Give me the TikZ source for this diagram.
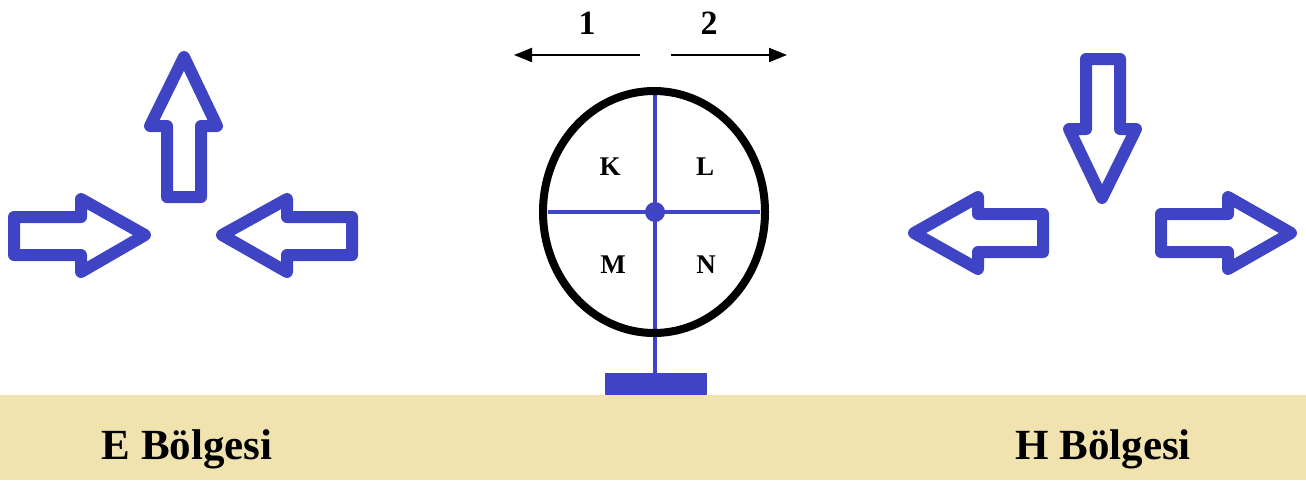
\documentclass[tikz,border=0pt]{standalone}
\usepackage{fontspec}
\setmainfont{Liberation Serif}
\usetikzlibrary{arrows.meta}
\definecolor{bl}{RGB}{62,68,196}
\definecolor{sand}{RGB}{240,227,176}
\begin{document}
\begin{tikzpicture}[x=1pt,y=-1pt,
  hollow/.style={draw=bl,line width=12pt,line join=round},
  lbl/.style={font=\bfseries\fontsize{27}{30}\selectfont,inner sep=0pt},
  num/.style={font=\bfseries\fontsize{34}{40}\selectfont,inner sep=0pt},
  region/.style={font=\bfseries\fontsize{43}{48}\selectfont,inner sep=0pt},
  dirarrow/.style={-{Triangle[length=18pt,width=14pt]},line width=2pt,black},
  blueline/.style={bl,line width=4pt}]
\useasboundingbox (0,0) rectangle (1306,480);
% ground strip
\fill[sand] (0,395) rectangle (1306,480);
% E region arrows
\draw[hollow] (167,197) -- (167,126) -- (150,126) -- (184,57) -- (217,126) -- (201,126) -- (201,197) -- cycle;
\draw[hollow] (14,217) -- (81,217) -- (81,199) -- (145,235) -- (81,272) -- (81,255) -- (14,255) -- cycle;
\draw[hollow] (352,217) -- (287,217) -- (287,199) -- (222,235) -- (287,272) -- (287,255) -- (352,255) -- cycle;
% H region arrows
\draw[hollow] (1086,59) -- (1120,59) -- (1120,129) -- (1136,129) -- (1102,198) -- (1069,129) -- (1086,129) -- cycle;
\draw[hollow] (1043,214) -- (978,214) -- (978,197) -- (914,233) -- (978,269) -- (978,252) -- (1043,252) -- cycle;
\draw[hollow] (1161,214) -- (1228,214) -- (1228,197) -- (1291,233) -- (1228,269) -- (1228,252) -- (1161,252) -- cycle;
% wheel
\coordinate (c) at (655,212);
\coordinate (vt) at (655,90);
\coordinate (vb) at (655,375);
\coordinate (hl) at (548,212);
\coordinate (hr) at (760,212);
\draw[blueline] (vt) -- (vb);
\draw[blueline] (hl) -- (hr);
\draw[line width=8pt] (654,212) ellipse [x radius=111pt, y radius=121pt];
\fill[bl] (c) circle [radius=10pt];
\fill[bl] (605,373) rectangle (707,395);
% quadrant labels
\node[lbl] (K) at (610,167) {K};
\node[lbl] (L) at (705,167) {L};
\node[lbl] (M) at (613,265) {M};
\node[lbl] (N) at (706,265) {N};
% direction arrows
\coordinate (a1s) at (640,55);
\coordinate (a1e) at (514,55);
\coordinate (a2s) at (671,55);
\coordinate (a2e) at (787,55);
\draw[dirarrow] (a1s) -- (a1e);
\draw[dirarrow] (a2s) -- (a2e);
\node[num] (n1) at (587,23) {1};
\node[num] (n2) at (709,23) {2};
% region names
\node[region] (E) at (187,449) {E Bölgesi};
\node[region] (H) at (1103,449) {H Bölgesi};
\end{tikzpicture}
\end{document}
